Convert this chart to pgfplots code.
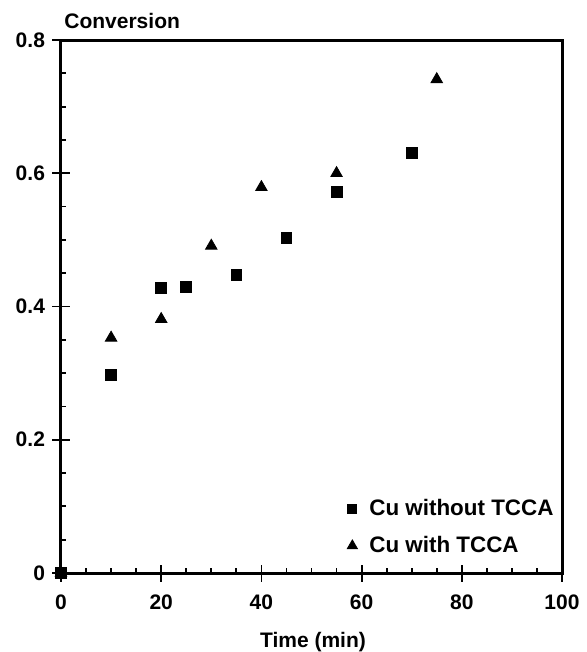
\documentclass[border=0pt]{standalone}
\usepackage{fontspec}
\setmainfont{Liberation Sans}
\usepackage{pgfplots}
\pgfplotsset{compat=1.18}

\newcommand{\lblfont}{\fontsize{10.5}{12}\selectfont\bfseries}
\newcommand{\legfont}{\fontsize{11.2}{13}\selectfont\bfseries}

\begin{document}
\begin{tikzpicture}
% page frame around the axis box (axis box spans 0..250.5pt x 0..266.5pt)
\useasboundingbox (-30.5pt,-39.5pt) rectangle (262.5pt,286.5pt);
\begin{axis}[
  at={(0,0)}, anchor=south west,
  scale only axis,
  width=250.5pt, height=266.5pt,
  xmin=0, xmax=100, ymin=0, ymax=0.8,
  clip=false,
  axis line style={line width=1.5pt},
  xtick={0,20,40,60,80,100},
  ytick={0,0.2,0.4,0.6,0.8},
  minor x tick num=3, minor y tick num=3,
  xtick pos=bottom, ytick pos=left,
  tick align=inside,
  major tick length=2.5pt, minor tick length=2.5pt,
  tick style={line width=0.9pt, black},
  extra x ticks={0,20,40,60,80,100},
  extra y ticks={0,0.2,0.4,0.6,0.8},
  extra x tick labels={}, extra y tick labels={},
  extra tick style={tick align=center, major tick length=8.5pt},
  tick label style={font=\lblfont},
  /pgf/number format/assume math mode=true,
  yticklabel style={anchor=east, xshift=-4.5pt},
  xticklabel style={anchor=base, yshift=-18pt},
  legend style={
    at={(axis description cs:0.5715,0.1388)}, anchor=north west,
    draw=none, fill=none, inner sep=0pt, outer sep=0pt,
    row sep=8pt, column sep=6pt,
    nodes={inner sep=0pt, text height=8pt, text depth=2.5pt, font=\legfont},
  },
  legend cell align=left,
  % text cells sit on their west anchor, so the mark is lifted a little to
  % line up with the middle of the capitals
  legend image code/.code={\draw[#1] plot coordinates {(0pt,0.4pt)};},
]
% Cu without TCCA
\addplot[only marks, mark=square*, mark size=2.7pt, black,
  legend image post style={mark size=2.25pt}] coordinates {
  (0,0) (10,0.297) (20,0.428) (25,0.429) (35,0.448) (45,0.503) (55,0.572) (70,0.630)
};
\addlegendentry{Cu without TCCA}
% Cu with TCCA
\addplot[only marks, mark=triangle*, mark size=3.3pt, black,
  legend image post style={mark size=2.9pt}] coordinates {
  (0,0) (10,0.353) (20,0.381) (30,0.491) (40,0.579) (55,0.600) (75,0.741)
};
\addlegendentry{Cu with TCCA}
\end{axis}
\node[anchor=base west, inner sep=0pt, font=\lblfont] at (1.5pt,272pt) {Conversion};
\node[anchor=base, inner sep=0pt, font=\lblfont] at (126pt,-37pt) {Time (min)};
\end{tikzpicture}
\end{document}
